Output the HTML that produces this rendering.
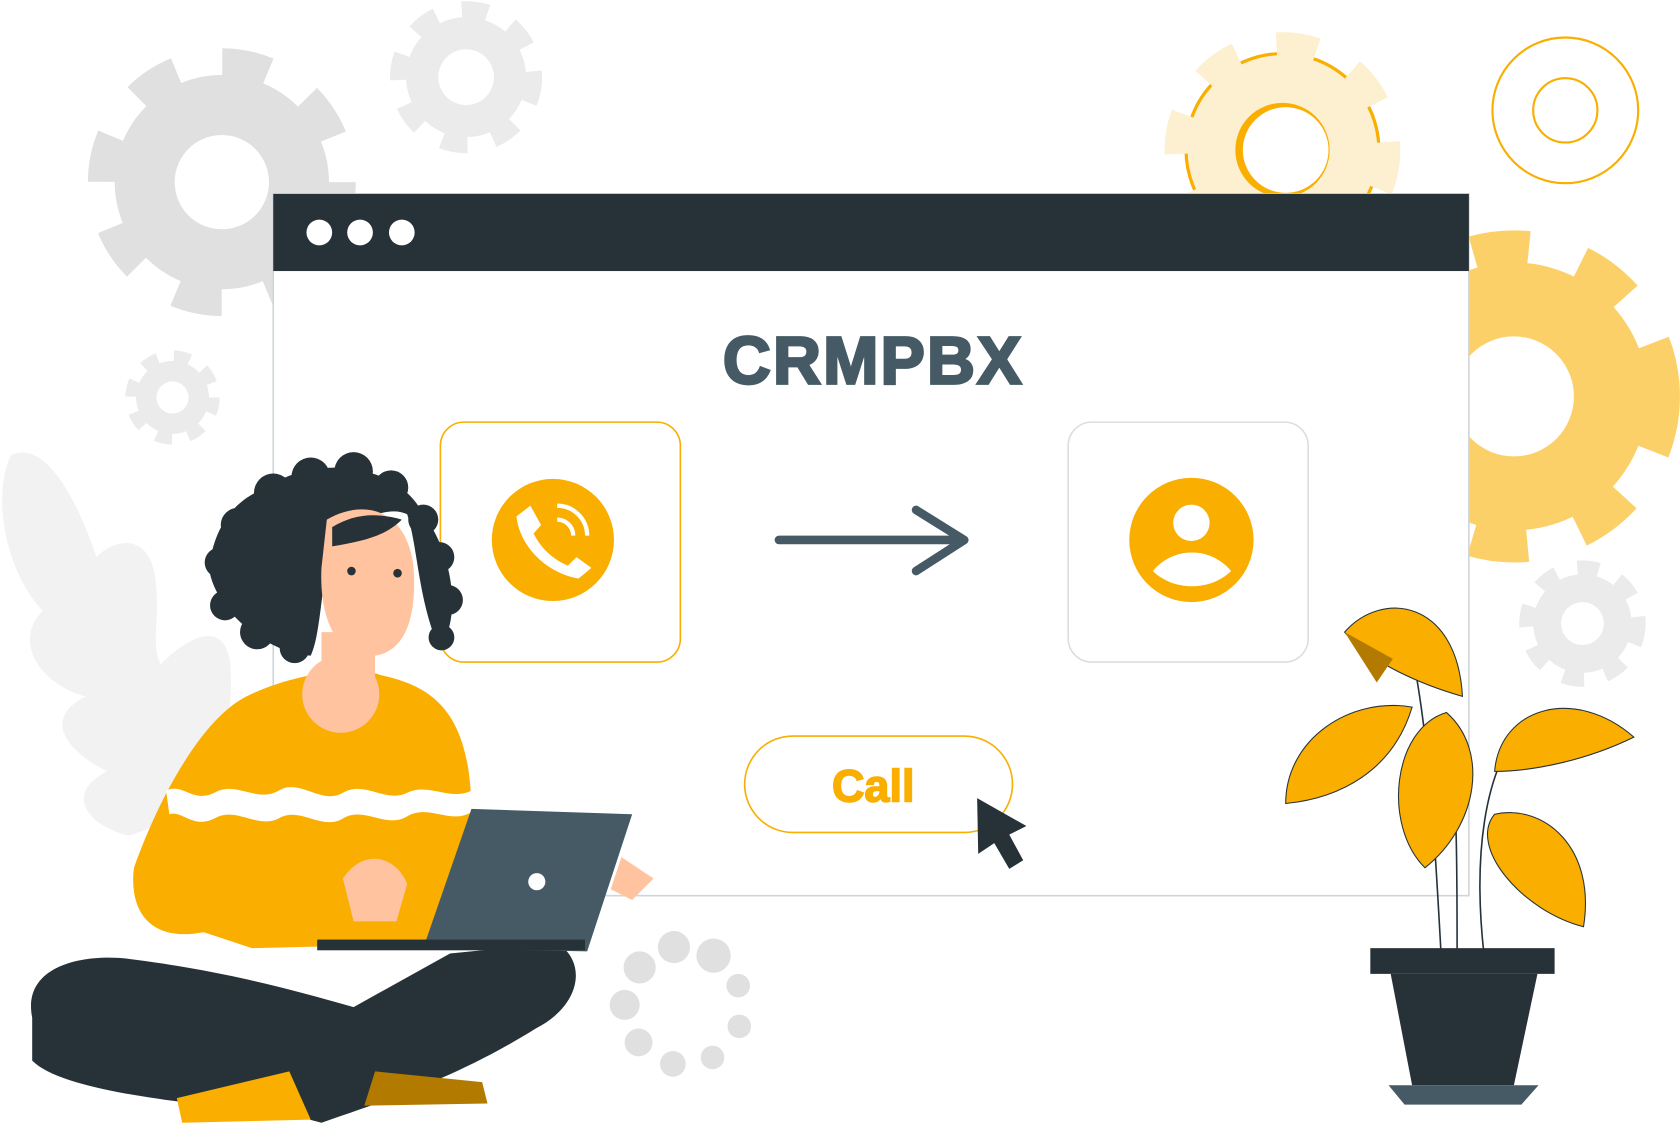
<!DOCTYPE html>
<html><head><meta charset="utf-8"><style>
html,body{margin:0;padding:0;background:#fff;}
svg{display:block}
</style></head><body>
<svg width="1680" height="1126" viewBox="0 0 1568 1051" xmlns="http://www.w3.org/2000/svg">
<path d="M10 425 C40 410 70 460 90 520 C110 500 140 500 145 540 C150 580 140 600 150 620 C180 590 210 580 215 620 C220 700 190 760 120 780 C80 770 60 740 100 720 C60 700 40 670 80 650 C40 640 10 600 40 570 C10 540 -10 470 10 425Z" fill="#f2f2f2"/>
<circle cx="207" cy="170" r="100" fill="#e0e0e0"/>
<circle cx="207" cy="170" r="112" fill="none" stroke="#e0e0e0" stroke-width="26" stroke-dasharray="44 44"/>
<circle cx="207" cy="170" r="44" fill="#fff"/>
<circle cx="435" cy="72" r="56" fill="#ebebeb"/>
<circle cx="435" cy="72" r="62" fill="none" stroke="#ebebeb" stroke-width="18" stroke-dasharray="24 24"/>
<circle cx="435" cy="72" r="26" fill="#fff"/>
<circle cx="161" cy="371" r="34" fill="#ebebeb"/>
<circle cx="161" cy="371" r="38" fill="none" stroke="#ebebeb" stroke-width="12" stroke-dasharray="15 15"/>
<circle cx="161" cy="371" r="15" fill="#fff"/>
<circle cx="1197" cy="140" r="90" fill="#fdf0d0" stroke="#f9ae00" stroke-width="3"/>
<circle cx="1197" cy="140" r="98" fill="none" stroke="#fdf0d0" stroke-width="24" stroke-dasharray="38 38"/>
<circle cx="1197" cy="140" r="44" fill="#f9ae00"/>
<circle cx="1200" cy="140" r="40" fill="#fff"/>
<circle cx="1461" cy="103" r="68" fill="#fff" stroke="#f9ae00" stroke-width="2"/>
<circle cx="1461" cy="103" r="76" fill="none" stroke="#fff" stroke-width="6" stroke-dasharray="20 20"/>
<circle cx="1461" cy="103" r="30" fill="#fff" stroke="#f9ae00" stroke-width="2"/>
<circle cx="1413" cy="370" r="125" fill="#fcd068"/>
<circle cx="1413" cy="370" r="138" fill="none" stroke="#fcd068" stroke-width="34" stroke-dasharray="52 50"/>
<circle cx="1413" cy="370" r="56" fill="#fff"/>
<circle cx="1477" cy="582" r="46" fill="#ebebeb"/>
<circle cx="1477" cy="582" r="52" fill="none" stroke="#ebebeb" stroke-width="14" stroke-dasharray="20 20"/>
<circle cx="1477" cy="582" r="20" fill="#fff"/>
<rect x="255" y="181" width="1116" height="655" fill="#fff" stroke="#cfd5d8" stroke-width="1.5"/>
<rect x="255" y="181" width="1116" height="72" fill="#263238"/>
<circle cx="298" cy="217" r="12" fill="#fff"/><circle cx="336" cy="217" r="12" fill="#fff"/><circle cx="375" cy="217" r="12" fill="#fff"/>
<text x="815" y="358" text-anchor="middle" font-family="Liberation Sans, sans-serif" font-weight="bold" font-size="62" fill="#455a64" stroke="#455a64" stroke-width="2.5" letter-spacing="2">CRMPBX</text>
<rect x="411" y="394" width="224" height="224" rx="22" fill="#fff" stroke="#f9ae00" stroke-width="1.5"/>
<circle cx="516" cy="504" r="57" fill="#f9ae00"/>
<path d="M495 472 L505 490 L498 498 C505 512 516 522 530 528 L538 520 L552 530 L540 540 C510 535 485 510 482 482Z" fill="#fff"/>
<path d="M520 485 A15 15 0 0 1 535 500 M520 472 A28 28 0 0 1 548 500" stroke="#fff" stroke-width="4" fill="none"/>
<rect x="997" y="394" width="224" height="224" rx="22" fill="#fff" stroke="#ddd" stroke-width="1.5"/>
<circle cx="1112" cy="504" r="58" fill="#f9ae00"/>
<circle cx="1112" cy="488" r="17" fill="#fff"/>
<path d="M1076 533 C1095 510 1130 510 1149 533 C1130 552 1095 552 1076 533Z" fill="#fff"/>
<path d="M727 504 H898 M855 476 L900 504 L855 533" stroke="#455a64" stroke-width="8" fill="none" stroke-linecap="round" stroke-linejoin="round"/>
<rect x="695" y="687" width="250" height="90" rx="45" fill="#fff" stroke="#f9ae00" stroke-width="1.5"/>
<text x="815" y="748" text-anchor="middle" font-family="Liberation Sans, sans-serif" font-weight="bold" font-size="42" fill="#f9ae00" stroke="#f9ae00" stroke-width="1.5">Call</text>
<path d="M912 745 L958 771 L942 779 L955 803 L942 811 L928 787 L913 797Z" fill="#263238"/>
<g fill="#e0e0e0"><circle cx="629" cy="884" r="15"/><circle cx="666" cy="892" r="16"/><circle cx="597" cy="903" r="15"/><circle cx="689" cy="920" r="11"/><circle cx="583" cy="938" r="14"/><circle cx="690" cy="958" r="11"/><circle cx="596" cy="973" r="13"/><circle cx="665" cy="987" r="11"/><circle cx="628" cy="993" r="12"/></g>
<g stroke="#263238" stroke-width="1.5" fill="none"><path d="M1345 890 C1340 800 1335 700 1320 620"/><path d="M1360 890 C1360 800 1360 720 1350 690"/><path d="M1385 890 C1375 800 1385 720 1420 680"/></g>
<g fill="#f9ae00" stroke="#263238" stroke-width="1">
<path d="M1255 590 C1290 550 1360 560 1365 650 C1330 640 1280 620 1255 590Z"/>
<path d="M1200 750 C1200 690 1260 650 1318 660 C1300 720 1250 745 1200 750Z"/>
<path d="M1330 810 C1290 770 1300 680 1350 665 C1390 700 1380 770 1330 810Z"/>
<path d="M1395 720 C1400 660 1470 640 1525 688 C1480 710 1430 720 1395 720Z"/>
<path d="M1478 865 C1420 850 1370 790 1395 760 C1440 750 1490 790 1478 865Z"/>
</g>
<path d="M1255 590 L1285 637 L1300 615Z" fill="#b37a00"/>
<rect x="1279" y="885" width="172" height="24" fill="#263238"/>
<path d="M1298 909 H1435 L1413 1013 H1318Z" fill="#263238"/>
<path d="M1296 1013 H1436 L1420 1031 H1311Z" fill="#455a64"/>
<path d="M30 950 C20 900 80 890 120 895 C200 905 260 920 330 940 L420 890 L520 880 C550 900 540 940 500 960 C420 1010 350 1030 300 1048 L270 1040 C180 1030 60 1020 30 990Z" fill="#263238"/>
<path d="M165 1025 L270 1000 L290 1045 L170 1048Z" fill="#f9ae00"/>
<path d="M350 1000 L450 1010 L455 1030 L340 1032Z" fill="#b37a00"/>
<path d="M125 810 C150 740 190 670 230 650 C270 630 330 620 355 630 C400 640 440 660 440 760 L445 880 L235 885 L190 870 C140 880 120 850 125 810Z" fill="#f9ae00"/>
<path d="M155 738 C170 730 180 750 200 740 C220 728 240 750 260 738 C280 726 300 752 320 740 C340 728 360 750 380 740 C400 730 420 748 440 738 L440 758 C420 770 400 750 380 762 C360 774 340 752 320 764 C300 776 280 752 260 764 C240 774 220 752 200 764 C180 774 170 756 158 760Z" fill="#fff"/>
<circle cx="318" cy="648" r="36" fill="#ffc3a0"/>
<rect x="300" y="590" width="50" height="50" fill="#ffc3a0"/>
<g fill="#263238">
<path d="M250 455 C290 425 370 430 395 480 C425 520 430 580 410 605 C390 560 390 510 380 480 C360 470 330 490 310 500 C300 540 300 590 290 612 C250 610 200 570 195 530 C200 490 220 465 250 455Z"/>
<circle cx="255" cy="460" r="18"/><circle cx="290" cy="445" r="18"/><circle cx="330" cy="440" r="18"/><circle cx="365" cy="455" r="16"/><circle cx="395" cy="485" r="14"/><circle cx="410" cy="520" r="14"/><circle cx="418" cy="560" r="14"/><circle cx="412" cy="595" r="12"/><circle cx="222" cy="490" r="16"/><circle cx="205" cy="525" r="14"/><circle cx="210" cy="565" r="14"/><circle cx="240" cy="590" r="16"/><circle cx="275" cy="605" r="14"/>
</g>
<path d="M305 485 C340 465 380 475 386 530 C390 590 370 615 340 612 C310 608 298 570 300 530Z" fill="#ffc3a0"/>
<path d="M310 492 C330 480 350 478 375 485 C360 500 340 505 310 510Z" fill="#263238"/>
<circle cx="328" cy="533" r="4" fill="#263238"/><circle cx="371" cy="535" r="4" fill="#263238"/>
<path d="M320 820 C340 790 370 800 380 825 L370 860 L330 860Z" fill="#ffc3a0"/>
<path d="M580 800 L610 820 L590 840 L570 830Z" fill="#ffc3a0"/>
<path d="M440 755 L590 760 L548 888 L395 885Z" fill="#455a64"/>
<rect x="296" y="877" width="250" height="10" fill="#263238"/>
<circle cx="501" cy="823" r="8" fill="#fff"/>
</svg>
</body></html>
